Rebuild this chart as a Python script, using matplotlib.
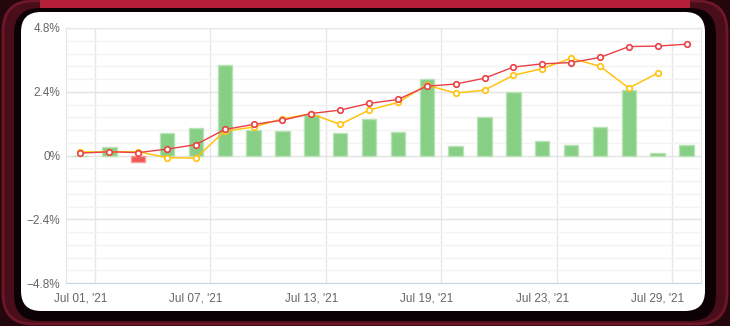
import matplotlib
matplotlib.use("Agg")
import matplotlib.pyplot as plt
import numpy as np
import pandas as pd
from matplotlib.patches import FancyBboxPatch, Rectangle
from matplotlib.ticker import FixedLocator, MultipleLocator

# trading days shown on the x axis
dates = [
    "2021-07-01", "2021-07-02", "2021-07-05", "2021-07-06", "2021-07-07",
    "2021-07-08", "2021-07-09", "2021-07-12", "2021-07-13", "2021-07-14",
    "2021-07-15", "2021-07-16", "2021-07-19", "2021-07-20", "2021-07-21",
    "2021-07-22", "2021-07-23", "2021-07-26", "2021-07-27", "2021-07-28",
    "2021-07-29", "2021-07-30",
]
# daily bars (%)
daily = [0.0, 0.33, -0.24, 0.85, 1.04, 3.40, 0.97, 0.93, 1.51, 0.85, 1.38,
         0.89, 2.89, 0.36, 1.46, 2.40, 0.55, 0.40, 1.08, 2.45, 0.08, 0.40]
# cumulative lines (%)
red_line = [0.09, 0.14, 0.11, 0.24, 0.41, 0.98, 1.17, 1.33, 1.58, 1.71, 1.96,
            2.11, 2.61, 2.69, 2.91, 3.33, 3.45, 3.50, 3.69, 4.10, 4.12, 4.19]
yellow_line = [0.13, 0.14, 0.14, -0.08, -0.10, 0.92, 1.07, 1.38, 1.57, 1.17, 1.71,
               2.00, 2.65, 2.35, 2.46, 3.02, 3.27, 3.66, 3.36, 2.54, 3.10, np.nan]
label_every = 4

plt.rcParams["font.family"] = ["Liberation Sans", "DejaVu Sans"]

W, H = 730, 326
fig = plt.figure(figsize=(W / 100, H / 100), dpi=100)
fig.patch.set_facecolor("#24060d")

# frame drawn in pixel coordinates
bg = fig.add_axes([0, 0, 1, 1], zorder=0)
bg.set_xlim(0, W)
bg.set_ylim(H, 0)
bg.axis("off")
bg.add_patch(FancyBboxPatch((3, 1), W - 6, H - 3, boxstyle="round,pad=0,rounding_size=30",
                            fc="#4a0d1a", ec="#6e1729", lw=2))
bg.add_patch(Rectangle((40, 0), W - 80, 8, fc="#b51f3a", ec="none"))
bg.add_patch(FancyBboxPatch((14, 8), W - 28, H - 13, boxstyle="round,pad=0,rounding_size=26",
                            fc="#0c0205", ec="none"))
bg.add_patch(FancyBboxPatch((21, 12), 684, 299, boxstyle="round,pad=0,rounding_size=20",
                            fc="white", ec="none"))

ax = fig.add_axes([66 / W, 1 - 283 / H, 635 / W, 255 / H], zorder=1)
ax.set_facecolor("none")

x = np.arange(len(dates))
bar_colors = ["#88cf86" if v >= 0 else "#f25656" for v in daily]
edge_colors = ["#b8e3b6" if v >= 0 else "#f79a9a" for v in daily]
ax.bar(x, daily, width=0.5, color=bar_colors, edgecolor=edge_colors, linewidth=1, zorder=2)

ax.plot(x, yellow_line, color="#ffc20e", lw=1.1, marker="o", ms=4,
        mfc="white", mec="#ffc20e", mew=1.2, zorder=3)
ax.plot(x, red_line, color="#ea4045", lw=1.0, marker="o", ms=4,
        mfc="white", mec="#ea4045", mew=1.2, zorder=4)

ax.set_xlim(-0.5, len(dates) - 0.5)
ax.set_ylim(-4.8, 4.8)

yt = [-4.8, -2.4, 0, 2.4, 4.8]
ax.set_yticks(yt)
ax.set_yticklabels([f"{v:g}%".replace("-", "\u2212") for v in yt])
ax.yaxis.set_minor_locator(MultipleLocator(0.48))

ticks = x[::label_every]
labels = pd.to_datetime(pd.Series(dates)).dt.strftime("%b %d, '%y").tolist()[::label_every]
ax.set_xticks(ticks)
ax.set_xticklabels(labels)
ax.xaxis.set_minor_locator(FixedLocator(ticks + 0.5))

ax.yaxis.grid(True, which="major", color="#e3e3e3", lw=1, zorder=0)
ax.yaxis.grid(True, which="minor", color="#f3f3f3", lw=1, zorder=0)
ax.xaxis.grid(True, which="minor", color="#e6e6e6", lw=1, zorder=0)
ax.xaxis.grid(False, which="major")
ax.set_axisbelow(True)

ax.tick_params(which="both", length=0, labelsize=8.5, colors="#666666")
ax.tick_params(axis="x", pad=7)
ax.tick_params(axis="y", pad=4)

for side in ("left", "right", "top"):
    ax.spines[side].set_color("#e6e6e6")
ax.spines["bottom"].set_color("#ccd6eb")

fig.savefig("out.png", dpi=100, facecolor=fig.get_facecolor())
